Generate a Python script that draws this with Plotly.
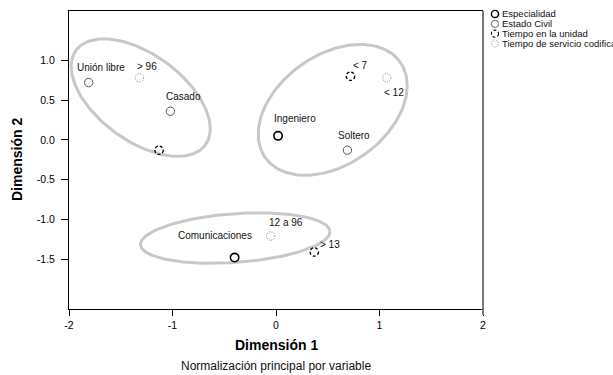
import numpy as np
import plotly.graph_objects as go

# ---- data ----
esp_names = ["Ingeniero", "Comunicaciones"]
esp_x = [0.02, -0.40]
esp_y = [0.05, -1.48]

civ_names = ["Unión libre", "Casado", "Soltero"]
civ_x = [-1.81, -1.02, 0.69]
civ_y = [0.72, 0.36, -0.13]

uni_names = ["< 7", "", "> 13"]
uni_x = [0.72, -1.13, 0.37]
uni_y = [0.80, -0.13, -1.41]

ser_names = ["> 96", "< 12", "12 a 96"]
ser_x = [-1.32, 1.07, -0.05]
ser_y = [0.78, 0.78, -1.21]

series_names = ["Especialidad", "Estado Civil", "Tiempo en la unidad", "Tiempo de servicio codificado"]

x_ticks = [-2, -1, 0, 1, 2]
y_ticks = [1.0, 0.5, 0.0, -0.5, -1.0, -1.5]
y_tick_text = ["1.0", "0.5", "0.0", "-0.5", "-1.0", "-1.5"]

# ellipse groups: centre, half extents, phase cosine
ell_cx = [-1.307, 0.548, -0.394]
ell_cy = [0.531, 0.377, -1.235]
ell_rx = [0.672, 0.720, 0.915]
ell_ry = [0.739, 0.823, 0.317]
ell_c = [-0.53, 0.37, 0.25]

# ---- styles ----
FONT = "Arial, Liberation Sans, sans-serif"
styles = [
    dict(color="#000000", width=1.6, dash="solid"),
    dict(color="#555555", width=1.0, dash="solid"),
    dict(color="#000000", width=1.3, dash="3px,2px"),
    dict(color="#777777", width=1.0, dash="1px,1.5px"),
]
# label offsets (px): dx right, dy up
esp_off = [(17, 17), (-20, 22)]
civ_off = [(12, 15), (13, 15), (7, 15)]
uni_off = [(10, 11), (0, 0), (16, 7)]
ser_off = [(8, 11), (7.5, -15), (15, 14)]

fig = go.Figure()

t = np.linspace(0, 2 * np.pi, 200)
for cx, cy, rx, ry, c in zip(ell_cx, ell_cy, ell_rx, ell_ry, ell_c):
    d = np.arccos(c)
    fig.add_trace(go.Scatter(
        x=cx + rx * np.cos(t), y=cy + ry * np.cos(t - d),
        mode="lines", line=dict(color="#c8c8c8", width=3),
        showlegend=False, hoverinfo="skip"))

shapes = []
annotations = []
groups = [
    (esp_names, esp_x, esp_y, esp_off),
    (civ_names, civ_x, civ_y, civ_off),
    (uni_names, uni_x, uni_y, uni_off),
    (ser_names, ser_x, ser_y, ser_off),
]
R = 4.2
for gi, (names, xs, ys, offs) in enumerate(groups):
    st = styles[gi]
    fig.add_trace(go.Scatter(x=xs, y=ys, mode="markers", name=series_names[gi],
                             marker=dict(size=9, opacity=0), text=names,
                             showlegend=False))
    for n, x, y, (dx, dy) in zip(names, xs, ys, offs):
        shapes.append(dict(type="circle", xref="x", yref="y",
                           xsizemode="pixel", ysizemode="pixel",
                           xanchor=x, yanchor=y, x0=-R, x1=R, y0=-R, y1=R,
                           line=dict(color=st["color"], width=st["width"], dash=st["dash"]),
                           layer="above"))
        if n:
            annotations.append(dict(x=x, y=y, xref="x", yref="y", text=n,
                                    showarrow=False, xshift=dx, yshift=dy,
                                    font=dict(family=FONT, size=10, color="#111111")))

# manual legend
leg_y = [0.990, 0.957, 0.924, 0.891]
for gi, name in enumerate(series_names):
    st = styles[gi]
    shapes.append(dict(type="circle", xref="paper", yref="paper",
                       xsizemode="pixel", ysizemode="pixel",
                       xanchor=1.029, yanchor=leg_y[gi], x0=-3.6, x1=3.6, y0=-3.6, y1=3.6,
                       line=dict(color=st["color"], width=st["width"] * 0.9, dash=st["dash"])))
    annotations.append(dict(x=1.043, y=leg_y[gi], xref="paper", yref="paper",
                            text=name, showarrow=False, xanchor="left", yanchor="middle",
                            borderpad=0,
                            font=dict(family=FONT, size=9.5, color="#111111")))

# right border (gray)
shapes.append(dict(type="line", xref="paper", yref="paper", x0=1, x1=1, y0=-0.02, y1=1,
                   line=dict(color="#7a7a7a", width=2)))

# titles
annotations.append(dict(x=0.5, y=0, xref="paper", yref="paper", text="<b>Dimensión 1</b>",
                        showarrow=False, yanchor="middle", yshift=-36,
                        font=dict(family=FONT, size=14, color="#000000")))
annotations.append(dict(x=0.5, y=0, xref="paper", yref="paper",
                        text="Normalización principal por variable",
                        showarrow=False, yanchor="middle", yshift=-57,
                        font=dict(family=FONT, size=12, color="#111111")))
annotations.append(dict(x=0, y=0.5, xref="paper", yref="paper", text="<b>Dimensión 2</b>",
                        showarrow=False, xanchor="center", yanchor="middle", xshift=-52,
                        textangle=-90,
                        font=dict(family=FONT, size=14, color="#000000")))

fig.update_layout(
    width=613, height=375,
    margin=dict(l=69, r=130, t=11, b=66),
    plot_bgcolor="white", paper_bgcolor="white",
    showlegend=False,
    shapes=shapes, annotations=annotations,
    font=dict(family=FONT, size=10, color="#000000"),
    xaxis=dict(range=[-2, 2], tickvals=x_ticks, ticktext=[str(v) for v in x_ticks],
               showgrid=False, zeroline=False, showline=True, linecolor="black",
               linewidth=1, mirror=True, ticks="outside", ticklen=6, tickcolor="black",
               tickfont=dict(family=FONT, size=10.5)),
    yaxis=dict(range=[-2.127, 1.62], tickvals=y_ticks, ticktext=y_tick_text,
               showgrid=False, zeroline=False, showline=True, linecolor="black",
               linewidth=1, ticks="outside", ticklen=7, tickcolor="black",
               tickfont=dict(family=FONT, size=10.5), ticklabelstandoff=4),
)

fig.write_html("out.html", config={"displayModeBar": False},
               post_script="document.body.style.margin='0';document.body.style.overflow='hidden';")
